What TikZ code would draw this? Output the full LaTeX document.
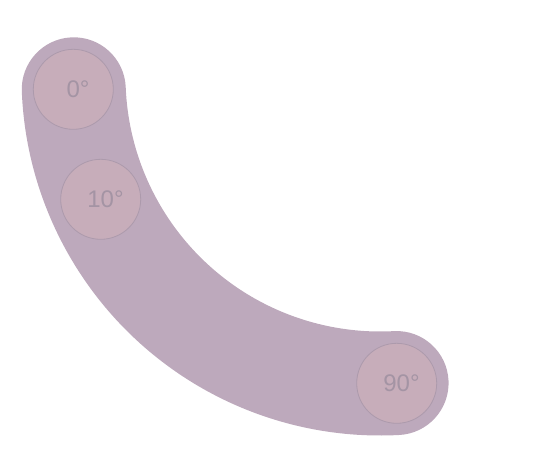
\documentclass[tikz,border=0pt]{standalone}
\usepackage{fontspec}
\setmainfont{Liberation Sans}
\definecolor{bandc}{HTML}{BDA9BC}
\definecolor{dotfill}{HTML}{C7ADBA}
\definecolor{dotline}{HTML}{AC9AAC}
\definecolor{txtc}{HTML}{A494A4}
\tikzset{
  band/.style={draw=bandc, line width=104pt, line cap=round},
  marker/.style={circle, minimum size=80pt, inner sep=0pt, fill=dotfill, draw=dotline, line width=0.8pt, text=txtc, font=\fontsize{24}{24}\selectfont}
}
\begin{document}
\begin{tikzpicture}[x=1pt,y=-1pt]
\useasboundingbox (0,0) rectangle (543,451);
\coordinate (c) at (380,77);
\draw[band] (c) ++(177.7:306.5) arc[start angle=177.7, end angle=86.9, radius=306.5];
\node[marker] (a0) at (73.3,89.3) {0\rlap{°}};
\node[marker] (a10) at (100.7,199.3) {10\rlap{°}};
\node[marker] (a90) at (396.7,383.3) {90\rlap{°}};
\end{tikzpicture}
\end{document}
